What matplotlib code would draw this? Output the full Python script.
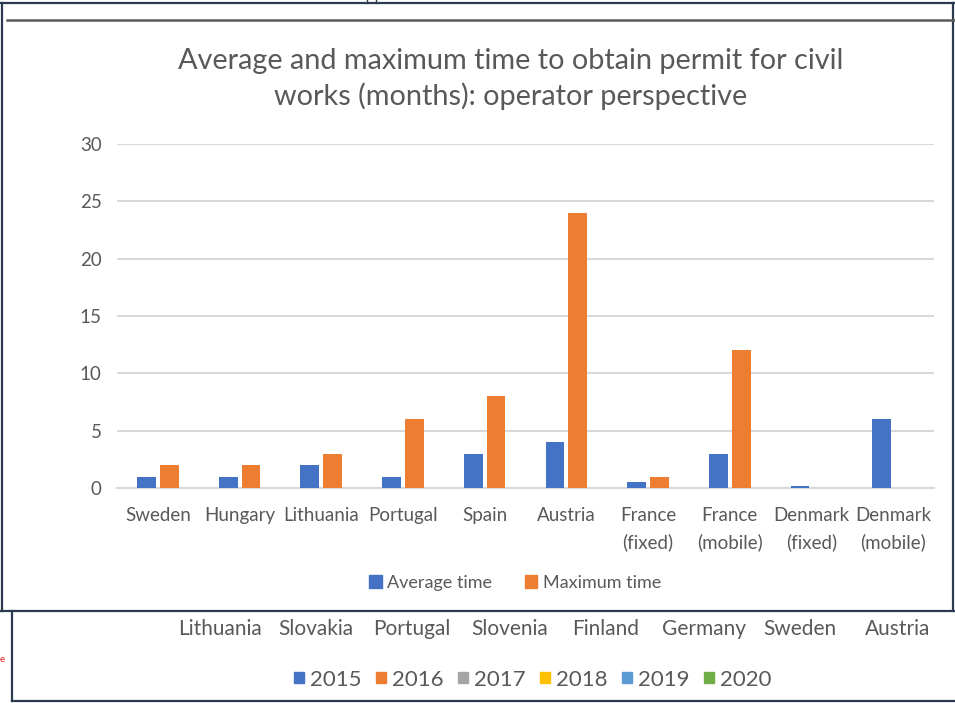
import numpy as np
import matplotlib.pyplot as plt
from matplotlib.lines import Line2D
from matplotlib.patches import Patch
from matplotlib.transforms import Bbox, TransformedBbox

plt.rcParams['font.family'] = ['Lato', 'DejaVu Sans']

# main chart data
countries = ['Sweden', 'Hungary', 'Lithuania', 'Portugal', 'Spain', 'Austria',
             'France\n(fixed)', 'France\n(mobile)', 'Denmark\n(fixed)', 'Denmark\n(mobile)']
average_time = [1, 1, 2, 1, 3, 4, 0.5, 3, 0.2, 6]
maximum_time = [2, 2, 3, 6, 8, 24, 1, 12, 0, 0]

# the chart underneath, only its labels show
under_countries = ['Lithuania', 'Slovakia', 'Portugal', 'Slovenia', 'Finland',
                   'Germany', 'Sweden', 'Austria']
under_years = ['2015', '2016', '2017', '2018', '2019', '2020']
under_colors = ['#4472C4', '#ED7D31', '#A5A5A5', '#FFC000', '#5B9BD5', '#70AD47']

W, H = 955, 703
BLUE = '#4472C4'
ORANGE = '#ED7D31'
GREY_TXT = '#595959'
FRAME = '#2c3a4f'


def fx(x):
    return x / W


def fy(y):
    return 1 - y / H


fig = plt.figure(figsize=(W / 100, H / 100), dpi=100)

# bar axes
left, right, top, bottom = 117, 934, 144, 488
ax = fig.add_axes([fx(left), fy(bottom), (right - left) / W, (bottom - top) / H])

x = np.arange(len(countries))
bw = 0.23
ax.bar(x - 0.14, average_time, bw, color=BLUE, zorder=3)
ax.bar(x + 0.14, maximum_time, bw, color=ORANGE, zorder=3)

ax.set_xlim(-0.5, len(countries) - 0.5)
ax.set_ylim(0, 30)
ax.set_yticks(range(0, 31, 5))
ax.yaxis.grid(True, color='#d9d9d9', linewidth=1.5)
ax.set_axisbelow(True)
for s in ['left', 'right', 'top']:
    ax.spines[s].set_visible(False)
ax.spines['bottom'].set_color('#d9d9d9')
ax.spines['bottom'].set_linewidth(1.5)
ax.tick_params(axis='both', length=0, labelsize=13.5, labelcolor=GREY_TXT)
ax.tick_params(axis='y', pad=11)
ax.tick_params(axis='x', pad=14)
ax.set_xticks(x)
ax.set_xticklabels(countries, linespacing=1.6)

fig.text(fx(511), fy(79), 'Average and maximum time to obtain permit for civil\nworks (months): operator perspective',
         ha='center', va='center', fontsize=20.8, color=GREY_TXT, linespacing=1.35)

handles = [Patch(color=BLUE, label='Average time'), Patch(color=ORANGE, label='Maximum time')]
fig.legend(handles=handles, loc='center', bbox_to_anchor=(fx(515), fy(583)), ncol=2,
           frameon=False, fontsize=13, labelcolor=GREY_TXT, handlelength=0.7,
           handleheight=0.7, handletextpad=0.3, columnspacing=1.8)

# frames of the screenshot
def seg(x0, y0, x1, y1, color=FRAME, lw=1.6):
    fig.add_artist(Line2D([fx(x0), fx(x1)], [fy(y0), fy(y1)], color=color, lw=lw,
                          transform=fig.transFigure))

seg(0, 3, 955, 3)
seg(1.5, 3, 1.5, 611)
seg(953, 3, 953, 611)
seg(0, 611, 955, 611)
seg(7, 20, 955, 20, color='#5a5a5a', lw=1.8)
seg(12, 611, 12, 701)
seg(12, 701, 955, 701)
seg(367, 0, 367, 3, lw=1)
seg(376, 0, 376, 3, lw=1)

# lower chart remnants
under_x = [220, 316, 412, 510, 606, 704, 800, 898]
for name, px in zip(under_countries, under_x):
    fig.text(fx(px), fy(635), name, ha='center', va='baseline', fontsize=15, color=GREY_TXT)

clip = TransformedBbox(Bbox([[0, fy(686)], [1, 1]]), fig.transFigure)
lx = 294
for yr, c in zip(under_years, under_colors):
    fig.patches.append(plt.Rectangle((fx(lx), fy(683)), 10 / W, 11 / H, color=c,
                                     transform=fig.transFigure, figure=fig))
    t = fig.text(fx(lx + 16), fy(686), yr, ha='left', va='baseline', fontsize=16,
                 color=GREY_TXT)
    t.set_clip_box(clip)
    t.set_clip_on(True)
    lx += 82

fig.text(fx(2), fy(660), 'e', ha='center', va='center', fontsize=7, color='#e02020')

fig.savefig('out.png', dpi=100)
